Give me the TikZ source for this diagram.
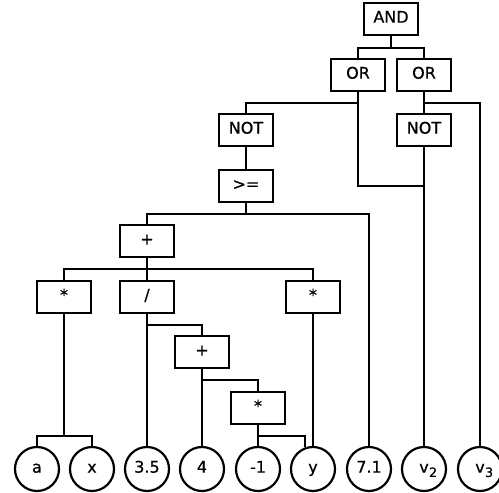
\documentclass[tikz,border=0pt]{standalone}
\usepackage{fontspec}
\setmainfont{DejaVu Sans}
\newfontfamily\nodefont{DejaVu Sans}[FakeBold=0.6]
\newcommand{\subidx}[1]{\rlap{\kern0.3pt\raisebox{-4.3pt}{\fontsize{12.8}{13}\selectfont #1}}}
\begin{document}
\begin{tikzpicture}[x=1pt,y=-1pt,
  every node/.style={font=\fontsize{16}{18}\nodefont, text height=0.729em, text depth=0pt, inner sep=0pt},
  opbox/.style={draw, line width=2.2pt, minimum width=54pt, minimum height=32pt},
  leaf/.style={draw, circle, line width=2.2pt, minimum size=44pt},
  edge/.style={line width=2.3pt}]
\useasboundingbox (0,0) rectangle (499,493);
% operator boxes
\node[opbox] (AND) at (391,19) {AND};
\node[opbox] (OR1) at (358,75) {OR};
\node[opbox] (OR2) at (424,75) {OR};
\node[opbox] (NOT1) at (246,130) {NOT};
\node[opbox] (NOT2) at (424,130) {NOT};
\node[opbox] (GE) at (246,186) {>=};
\node[opbox] (PLUS) at (147,241) {+};
\node[opbox] (ML) at (64,297) {*};
\node[opbox] (DIV) at (147,297) {/};
\node[opbox] (MR) at (313,297) {*};
\node[opbox] (PLUS2) at (202,352) {+};
\node[opbox] (MUL2) at (258,408) {*};
% leaves
\node[leaf] (la) at (37,469) {a};
\node[leaf] (lx) at (92,469) {x};
\node[leaf] (l35) at (147,469) {3.5};
\node[leaf] (l4) at (202,469) {4};
\node[leaf] (lm1) at (258,469) {-1};
\node[leaf] (ly) at (313,469) {y};
\node[leaf] (l71) at (369,469) {7.1};
\node[leaf] (lv2) at (424,469) {v\subidx{2}};
\node[leaf] (lv3) at (480,469) {v\subidx{3}};
% connectors
\draw[edge] (AND.south) -- ++(0,12) -| (OR1.north);
\draw[edge] (AND.south) -- ++(0,12) -| (OR2.north);
\draw[edge] (OR1.south) -- ++(0,11) -| (NOT1.north);
\draw[edge] (OR1.south) -- ++(0,94) -| (lv2.north);
\draw[edge] (OR2.south) -- (NOT2.north);
\draw[edge] (OR2.south) -- ++(0,11) -| (lv3.north);
\draw[edge] (NOT1.south) -- (GE.north);
\draw[edge] (NOT2.south) -- (lv2.north);
\draw[edge] (GE.south) -- ++(0,11) -| (PLUS.north);
\draw[edge] (GE.south) -- ++(0,11) -| (l71.north);
\draw[edge] (PLUS.south) -- ++(0,11) -| (ML.north);
\draw[edge] (PLUS.south) -- (DIV.north);
\draw[edge] (PLUS.south) -- ++(0,11) -| (MR.north);
\draw[edge] (ML.south) -- ++(0,122) -| (la.north);
\draw[edge] (ML.south) -- ++(0,122) -| (lx.north);
\draw[edge] (DIV.south) -- (l35.north);
\draw[edge] (DIV.south) -- ++(0,11) -| (PLUS2.north);
\draw[edge] (MR.south) -- (ly.north);
\draw[edge] (PLUS2.south) -- (l4.north);
\draw[edge] (PLUS2.south) -- ++(0,11) -| (MUL2.north);
\draw[edge] (MUL2.south) -- (lm1.north);
\draw[edge] (MUL2.south) -- ++(0,11) -| (ly.110);
\end{tikzpicture}
\end{document}
